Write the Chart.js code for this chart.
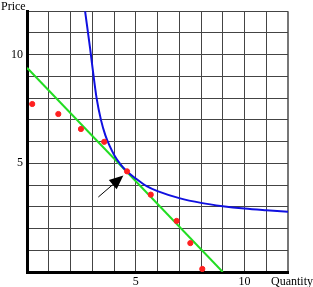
<!DOCTYPE html>
<html>
<head>
<meta charset="utf-8">
<script src="https://cdn.jsdelivr.net/npm/chart.js@4"></script>
<style>
  html, body { margin: 0; padding: 0; background: #fff; }
  #wrap { width: 313px; height: 287px; }
</style>
</head>
<body>
<div id="wrap"><canvas id="myChart" width="313" height="287"></canvas></div>
<script>
// values
var dotX = [0.24, 1.44, 2.48, 3.55, 4.6, 5.69, 6.88, 7.51, 8.06];
var dotY = [7.73, 7.27, 6.58, 5.99, 4.63, 3.56, 2.35, 1.33, 0.14];

var demandX = [0, 9.0];
var demandY = [9.4, 0];

var curveX = [2.67, 2.9, 3.0, 3.2, 3.4, 3.6, 3.8, 4.0, 4.3, 4.6, 5.0, 5.5, 6, 7, 8, 9, 10, 11, 12];
var curveY = [12, 10.3, 9.5, 8.0, 7.0, 6.3, 5.8, 5.4, 4.95, 4.62, 4.3, 3.95, 3.72, 3.4, 3.18, 3.03, 2.92, 2.84, 2.77];

var arrowFrom = [3.28, 3.45];
var arrowTo = [4.43, 4.44];

var labeledTicks = [5, 10];

function pts(xs, ys) {
  return xs.map(function (x, i) { return { x: x, y: ys[i] }; });
}

var serif = 'Liberation Serif, Times New Roman, serif';

var extras = {
  id: 'extras',
  afterDatasetsDraw: function (chart) {
    var c = chart.ctx, xs = chart.scales.x, ys = chart.scales.y;
    var x0 = xs.getPixelForValue(arrowFrom[0]), y0 = ys.getPixelForValue(arrowFrom[1]);
    var x1 = xs.getPixelForValue(arrowTo[0]), y1 = ys.getPixelForValue(arrowTo[1]);
    var ang = Math.atan2(y1 - y0, x1 - x0);
    var len = 14, half = 6;
    c.save();
    c.strokeStyle = '#000';
    c.fillStyle = '#000';
    c.lineWidth = 1;
    c.beginPath();
    c.moveTo(x0, y0);
    c.lineTo(x1 - Math.cos(ang) * len, y1 - Math.sin(ang) * len);
    c.stroke();
    c.beginPath();
    c.moveTo(x1, y1);
    c.lineTo(x1 - Math.cos(ang) * len - Math.sin(ang) * half, y1 - Math.sin(ang) * len + Math.cos(ang) * half);
    c.lineTo(x1 - Math.cos(ang) * len + Math.sin(ang) * half, y1 - Math.sin(ang) * len - Math.cos(ang) * half);
    c.closePath();
    c.fill();
    c.restore();
  },
  afterDraw: function (chart) {
    var c = chart.ctx;
    c.save();
    c.fillStyle = '#000';
    c.font = '12px ' + serif;
    c.textBaseline = 'alphabetic';
    c.textAlign = 'left';
    c.fillText('Price', 1, 10);
    c.fillText('Quantity', 271, 285);
    c.restore();
  }
};

var ctx = document.getElementById('myChart').getContext('2d');
var myChart = new Chart(ctx, {
  type: 'scatter',
  data: {
    datasets: [{
      label: 'Observed',
      data: pts(dotX, dotY),
      backgroundColor: '#ff2020',
      borderColor: '#ff2020',
      pointRadius: 2.6,
      order: 0
    },
    {
      label: 'Curve',
      data: pts(curveX, curveY),
      showLine: true,
      borderColor: '#1010e0',
      borderWidth: 2,
      pointRadius: 0,
      cubicInterpolationMode: 'monotone',
      order: 1
    },
    {
      label: 'Line',
      data: pts(demandX, demandY),
      showLine: true,
      borderColor: '#22dd22',
      borderWidth: 2,
      pointRadius: 0,
      order: 2
    }]
  },
  options: {
    responsive: false,
    animation: false,
    layout: { padding: { top: 10, right: 25, left: 0, bottom: 0 } },
    plugins: { legend: { display: false }, tooltip: { enabled: false } },
    scales: {
      x: {
        type: 'linear', min: 0, max: 12,
        afterFit: function (s) { s.height = 15; },
        border: { color: '#000', width: 3 },
        grid: {
          drawTicks: false,
          color: function (c) { return c.tick.value === 12 ? '#777' : '#444'; },
          lineWidth: function (c) { return c.tick.value === 12 ? 2 : 1; }
        },
        ticks: {
          stepSize: 1, padding: 3, color: '#000', maxRotation: 0, autoSkip: false,
          font: { family: serif, size: 12 },
          callback: function (v) { return labeledTicks.indexOf(v) >= 0 ? String(v) : ''; }
        }
      },
      y: {
        type: 'linear', min: 0, max: 12,
        afterFit: function (s) { s.width = 27; },
        border: { color: '#000', width: 3 },
        grid: { drawTicks: false, color: '#444', lineWidth: 1 },
        ticks: {
          stepSize: 1, padding: 4, color: '#000', autoSkip: false,
          font: { family: serif, size: 12 },
          callback: function (v) { return labeledTicks.indexOf(v) >= 0 ? String(v) : ''; }
        }
      }
    }
  },
  plugins: [extras]
});
</script>
</body>
</html>
